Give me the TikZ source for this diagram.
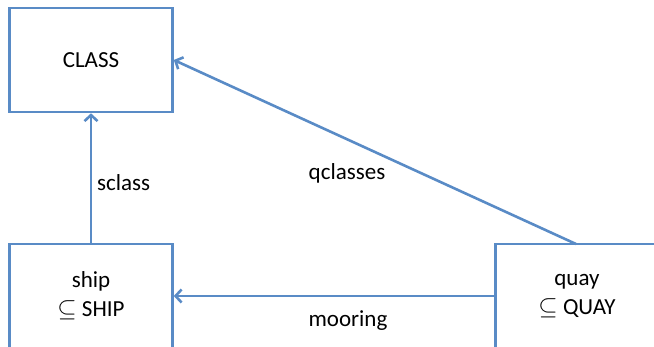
\documentclass[tikz,border=0pt]{standalone}
\usepackage{fontspec}
\setmainfont{Carlito}
\usetikzlibrary{arrows.meta}
\definecolor{lineblue}{RGB}{89,139,198}
\tikzset{
  box/.style={draw=lineblue, line width=2.6pt, minimum width=163pt, minimum height=104pt, inner sep=0pt, align=center, font=\fontsize{23}{29}\selectfont},
  conn/.style={draw=lineblue, line width=2.6pt, -{Straight Barb[length=6pt,width=13pt,line width=2.6pt]}},
  lbl/.style={font=\fontsize{23}{29}\selectfont, inner sep=0pt}
}
\begin{document}
\begin{tikzpicture}[x=1pt,y=-1pt]
\useasboundingbox (0,0) rectangle (654,347);
\node[box] (class) at (91,60) {CLASS};
\node[box] (ship) at (91,296) {ship\\$\subseteq$ SHIP};
\node[box] (quay) at (577,296) {quay\\$\subseteq$ QUAY};
\coordinate (qtop) at (576,244);
\draw[conn] (ship.north) -- (class.south);
\draw[conn] (qtop) -- (class.east |- 0,60);
\draw[conn] (quay.west) -- (ship.east);
\node[lbl, anchor=west] (l1) at (97,183) {sclass};
\node[lbl] (l2) at (347,173) {qclasses};
\node[lbl] (l3) at (348,321) {mooring};
\end{tikzpicture}
\end{document}
